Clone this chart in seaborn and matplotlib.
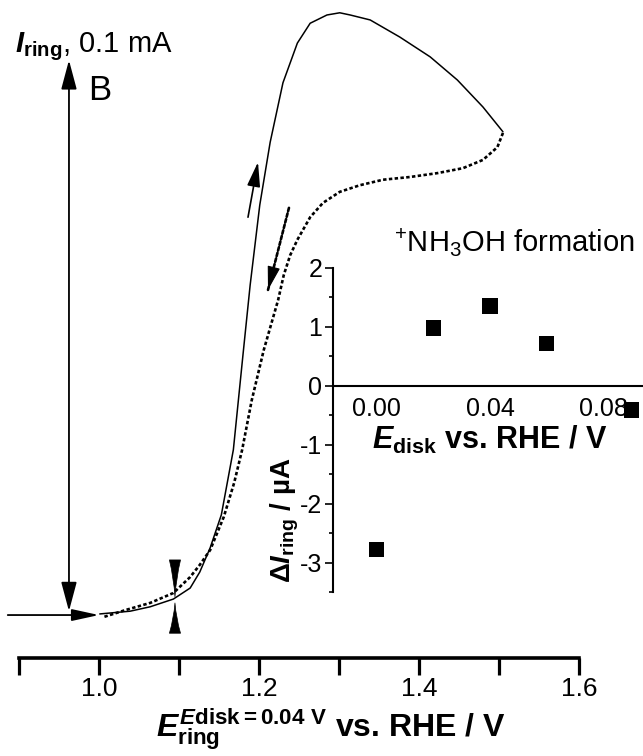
import matplotlib
matplotlib.use("Agg")
import matplotlib.pyplot as plt
import numpy as np
import pandas as pd
import seaborn as sns
from matplotlib.ticker import MultipleLocator, FormatStrFormatter

# ---------------- data ----------------
# ring potential (V vs. RHE) and ring current (µA), anodic sweep
forward_potential = [1.001, 1.039, 1.064, 1.093, 1.114, 1.126, 1.139, 1.153, 1.168,
                     1.180, 1.189, 1.201, 1.214, 1.230, 1.248, 1.264, 1.285, 1.301,
                     1.314, 1.339, 1.376, 1.414, 1.448, 1.480, 1.505]
forward_current = [0.2, 0.7, 1.5, 2.9, 4.9, 7.8, 12.2, 18.2, 30.0,
                   47.2, 59.9, 74.4, 85.8, 96.6, 103.8, 107.4, 108.9, 109.3,
                   108.9, 108.0, 104.9, 101.3, 97.1, 92.2, 87.7]

# cathodic (return) sweep
reverse_potential = [1.505, 1.498, 1.480, 1.455, 1.423, 1.389, 1.355, 1.326, 1.301,
                     1.280, 1.264, 1.248, 1.239, 1.231, 1.224, 1.206, 1.191, 1.179,
                     1.169, 1.156, 1.139, 1.126, 1.114, 1.093, 1.064, 1.033, 1.005]
reverse_current = [87.5, 84.9, 82.6, 81.1, 80.2, 79.5, 79.0, 78.0, 76.8,
                   74.8, 72.2, 68.1, 65.3, 61.7, 57.2, 48.1, 39.0, 30.0,
                   24.0, 17.8, 11.8, 9.1, 6.9, 4.0, 2.2, 0.9, -0.4]

# inset: ring current difference vs. disk potential
disk_potential = [0.00, 0.02, 0.04, 0.06, 0.09]
delta_ring_current = [-2.77, 0.98, 1.35, 0.71, -0.41]

# current scale bar (µA) and markers
scale_bar_current = 100.0      # 0.1 mA
scale_bar_potential = 0.9625
scale_bar_base = 0.7
crossing_potential = 1.095

# sweep direction arrows: (tail, tip) in data units
up_arrow = ((1.1863, 72.2), (1.1988, 82.2))
down_arrow = ((1.2375, 73.9), (1.2113, 59.0))

main_ticks = [0.9, 1.0, 1.1, 1.2, 1.3, 1.4, 1.5, 1.6]
main_tick_labels = ["", "1.0", "", "1.2", "", "1.4", "", "1.6"]

# ---------------- style ----------------
sns.set_style("white")
plt.rcParams["font.family"] = ["Liberation Sans", "DejaVu Sans"]
plt.rcParams["mathtext.fontset"] = "custom"
plt.rcParams["mathtext.rm"] = "Liberation Sans"
plt.rcParams["mathtext.it"] = "Liberation Sans:italic:bold"
plt.rcParams["mathtext.bf"] = "Liberation Sans:bold"
plt.rcParams["axes.unicode_minus"] = False

fig = plt.figure(figsize=(6.43, 7.56), dpi=100)

# ---------------- main panel ----------------
ax = fig.add_axes([0.0295, 0.1296, 0.8709, 0.8637])
ax.set_facecolor("none")

fwd = pd.DataFrame({"E": forward_potential, "I": forward_current})
rev = pd.DataFrame({"E": reverse_potential, "I": reverse_current})
sns.lineplot(data=fwd, x="E", y="I", sort=False, estimator=None, ax=ax,
             color="black", lw=1.1)
sns.lineplot(data=rev, x="E", y="I", sort=False, estimator=None, ax=ax,
             color="black", lw=1.9, linestyle=(0, (1.3, 0.9)))

ax.set_xlim(0.9, 1.6)
ax.set_ylim(-7.8, 110.7)
for s in ["left", "top", "right"]:
    ax.spines[s].set_visible(False)
ax.spines["bottom"].set_linewidth(2.6)
ax.spines["bottom"].set_color("black")
ax.set_yticks([])
ax.set_xticks(main_ticks)
ax.set_xticklabels(main_tick_labels)
ax.tick_params(axis="x", direction="out", length=12, width=2.3, pad=2,
               labelsize=19, colors="black", bottom=True)
ax.set_xlabel("")
ax.set_ylabel("")

# 0.1 mA scale bar
ax.annotate("", xy=(scale_bar_potential, scale_bar_base + scale_bar_current),
            xytext=(scale_bar_potential, scale_bar_base),
            arrowprops=dict(arrowstyle="<|-|>,head_length=0.45,head_width=0.12",
                            mutation_scale=40, lw=1.3, color="black",
                            shrinkA=0, shrinkB=0))
# zero-current pointer
ax.annotate("", xy=(1.0, 0.0), xytext=(0.886, 0.0), annotation_clip=False,
            arrowprops=dict(arrowstyle="-|>,head_length=0.55,head_width=0.12",
                            mutation_scale=30, lw=1.3, color="black",
                            shrinkA=0, shrinkB=0))
# crossing point markers
ax.annotate("", xy=(crossing_potential, 3.3), xytext=(crossing_potential, 10.0),
            arrowprops=dict(arrowstyle="wedge,tail_width=0.8,shrink_factor=0.35",
                            mutation_scale=10, color="black", lw=0.5,
                            shrinkA=0, shrinkB=0))
ax.annotate("", xy=(crossing_potential, 2.2), xytext=(crossing_potential, -3.3),
            arrowprops=dict(arrowstyle="wedge,tail_width=0.8,shrink_factor=0.35",
                            mutation_scale=10, color="black", lw=0.5,
                            shrinkA=0, shrinkB=0))

# sweep direction arrows
ax.annotate("", xy=up_arrow[1], xytext=up_arrow[0],
            arrowprops=dict(arrowstyle="-|>,head_length=0.75,head_width=0.2",
                            mutation_scale=20, lw=1.2, color="black",
                            shrinkA=0, shrinkB=0))
# dotted shaft, then a solid filled head on the same line
(tx, ty), (hx, hy) = down_arrow
ax.annotate("", xy=down_arrow[1], xytext=down_arrow[0],
            arrowprops=dict(arrowstyle="-", lw=1.9, color="black",
                            linestyle=(0, (1.3, 0.9)), shrinkA=0, shrinkB=0))
head_base = (hx + 0.3 * (tx - hx), hy + 0.3 * (ty - hy))
ax.annotate("", xy=down_arrow[1], xytext=head_base,
            arrowprops=dict(arrowstyle="-|>,head_length=0.75,head_width=0.2",
                            mutation_scale=20, lw=0.8, color="black",
                            shrinkA=0, shrinkB=0))

# texts on the main panel
fig.text(15 / 643, 1 - 52 / 756, r"$I_{\mathbf{ring}}$, 0.1 mA", fontsize=21,
         ha="left", va="baseline", color="black")
fig.text(88 / 643, 1 - 100 / 756, "B", fontsize=25, ha="left", va="baseline",
         color="black")
fig.text(331 / 643, 1 - 706 / 756,
         r"$E^{E\mathbf{disk = 0.04\ V}}_{\mathbf{ring}}$ vs. RHE / V",
         fontsize=23, fontweight="bold", ha="center", va="top", color="black")

# ---------------- inset ----------------
ax_in = fig.add_axes([0.5184, 0.2165, 0.4816, 0.4294])
ax_in.set_facecolor("none")
pts = pd.DataFrame({"Edisk": disk_potential, "dI": delta_ring_current})
sns.scatterplot(data=pts, x="Edisk", y="dI", ax=ax_in, marker="s", s=120,
                color="black", edgecolor="none", linewidth=0, clip_on=False,
                zorder=5)
ax_in.set_xlim(-0.0153, 0.094)
ax_in.set_ylim(-3.5, 2.0)
ax_in.spines["top"].set_visible(False)
ax_in.spines["right"].set_visible(False)
ax_in.spines["bottom"].set_position(("data", 0))
for s in ["left", "bottom"]:
    ax_in.spines[s].set_linewidth(1.5)
    ax_in.spines[s].set_color("black")
ax_in.yaxis.set_major_locator(MultipleLocator(1))
ax_in.yaxis.set_minor_locator(MultipleLocator(0.5))
ax_in.xaxis.set_major_locator(MultipleLocator(0.04))
ax_in.xaxis.set_major_formatter(FormatStrFormatter("%.2f"))
ax_in.tick_params(axis="y", which="major", direction="out", length=6, width=1.2,
                  labelsize=18, pad=2, left=True, colors="black")
ax_in.tick_params(axis="y", which="minor", direction="out", length=3, width=1.2,
                  left=True, colors="black")
ax_in.tick_params(axis="x", which="major", direction="out", length=0, width=1.2,
                  labelsize=18, pad=8, bottom=True, colors="black")
ax_in.set_xlabel("")
ax_in.set_ylabel("")

ax_in.text(0.506, 0.52, r"$E_{\mathbf{disk}}$ vs. RHE / V", transform=ax_in.transAxes,
           fontsize=22, fontweight="bold", ha="center", va="top", color="black")
fig.text(285 / 643, 1 - 520 / 756, r"Δ$I_{\mathbf{ring}}$ / µA", rotation=90,
         fontsize=20, fontweight="bold", ha="center", va="center", color="black")
fig.text(514 / 643, 1 - 243 / 756, r"$^{+}$NH$_{3}$OH formation", fontsize=21,
         ha="center", va="center", color="black")

fig.savefig("out.png", dpi=100)
